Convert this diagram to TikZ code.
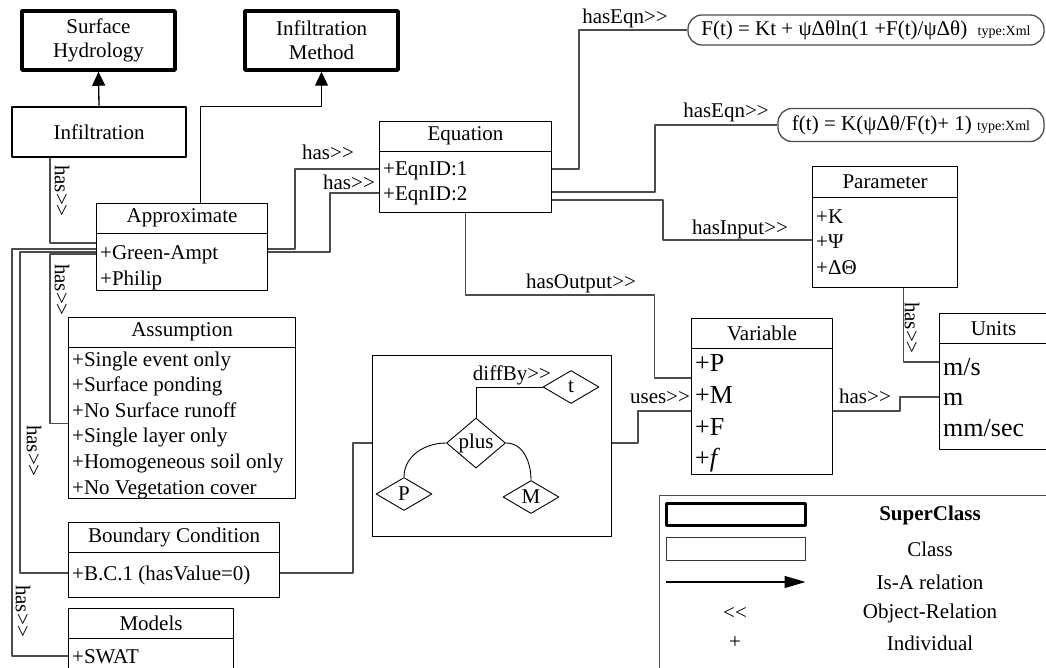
\documentclass[tikz,border=0pt]{standalone}
\usepackage{fontspec}
\setmainfont{Liberation Serif}
\usetikzlibrary{arrows.meta, shapes.geometric, calc, positioning}

\tikzset{
  superbox/.style={draw, line width=3.5pt, align=center, minimum width=153pt, minimum height=59pt, inner sep=0pt},
  clsbox/.style={draw, line width=1.1pt, inner sep=0pt},
  item/.style={anchor=west, inner sep=0pt, text height=15pt, text depth=1pt},
  bigitem/.style={item, font=\fontsize{26}{30}\selectfont, text height=18.5pt, text depth=1pt},
  rel/.style={draw=black!70, line width=1.3pt},
  isa/.style={-{Triangle[length=14pt, width=13pt]}, line width=1.3pt},
  lbl/.style={inner sep=0pt},
  vlbl/.style={inner sep=0pt, rotate=-90},
  eqbox/.style={draw=black!70, line width=1.3pt, rounded corners=14pt, inner sep=0pt},
  opnode/.style={diamond, draw, line width=0.9pt, inner sep=0pt, minimum width=56pt, minimum height=33pt},
  tree/.style={line width=0.9pt}
}

% class box with a header: name, x, y (top left), width, height, header height, title
\newcommand{\umlclass}[7]{%
  \node[clsbox, minimum width=#4pt, minimum height=#5pt, anchor=north west] (#1) at (#2,#3) {};
  \node[anchor=north, minimum height=#6pt, inner sep=0pt] (#1-head) at (#1.north) {#7};
  \draw[line width=1.1pt] (#1-head.south -| #1.west) -- (#1-head.south -| #1.east);
}

\begin{document}
\begin{tikzpicture}[x=1pt, y=1pt, font=\fontsize{21}{24}\selectfont, line join=round]
  \useasboundingbox (0,0) rectangle (1046,-668);

  % --- super classes ---
  \node[superbox] (surfhyd) at (98.5,-40.5) {Surface\\Hydrology};
  \node[superbox] (infmethod) at (321.5,-40.5) {Infiltration\\Method};
  \node[clsbox, minimum width=174pt, minimum height=50pt] (infil) at (99,-132) {Infiltration};

  % --- classes ---
  \umlclass{approx}{96}{-203}{171}{87}{30}{Approximate}
  \node[item] (ga) at (100,-252) {+Green-Ampt};
  \node[item] (philip) at (100,-278) {+Philip};

  \umlclass{eqn}{379}{-121}{172}{91}{30}{Equation}
  \node[item] (eq1) at (383,-169) {+EqnID:1};
  \node[item] (eq2) at (383,-194) {+EqnID:2};

  \umlclass{param}{812}{-166}{145}{121}{31}{Parameter}
  \node[item] (pK) at (816,-217) {+K};
  \node[item] (pPsi) at (816,-242) {+Ψ};
  \node[item] (pTheta) at (816,-267) {+ΔΘ};

  \umlclass{var}{691}{-318}{141}{156}{30}{Variable}
  \node[bigitem] (vP) at (695,-363) {+P};
  \node[bigitem] (vM) at (695,-395) {+M};
  \node[bigitem] (vF) at (695,-427) {+F};
  \node[bigitem] (vf) at (695,-458) {+\textit{f}};

  \umlclass{units}{939}{-313}{108}{136}{30}{Units}
  \node[bigitem] (ums) at (943,-367) {m/s};
  \node[bigitem] (um) at (943,-397) {m};
  \node[bigitem] (umms) at (943,-428) {mm/sec};

  \umlclass{assume}{68}{-317}{227}{181}{30}{Assumption}
  \foreach \txt [count=\i] in {+Single event only, +Surface ponding, +No Surface runoff,
      +Single layer only, +Homogeneous soil only, +No Vegetation cover}{
    \node[item] (a\i) at (72,{-359-25.6*(\i-1)}) {\txt};
  }

  \umlclass{bc}{68}{-522}{211}{75}{30}{Boundary Condition}
  \node[item] (bc1) at (72,-573) {+B.C.1 (hasValue=0)};

  \umlclass{models}{68}{-608}{165}{90}{30}{Models}
  \node[item] (swat) at (72,-656) {+SWAT};

  % --- equations ---
  \node[eqbox, minimum width=356pt, minimum height=30pt] (eqcum) at (866,-30)
    {F(t) = Kt + ψΔθln(1 +F(t)/ψΔθ)\enspace{\fontsize{14}{16}\selectfont type:Xml}};
  \node[eqbox, minimum width=266pt, minimum height=33pt] (eqrate) at (911,-125)
    {f(t) = K(ψΔθ/F(t)+ 1) {\fontsize{14}{16}\selectfont type:Xml}};

  % --- expression tree ---
  \node[clsbox, minimum width=239pt, minimum height=181pt, anchor=north west] (expr) at (372,-355) {};
  \node[opnode] (opt) at (571,-387) {t};
  \node[opnode, minimum width=59pt, minimum height=41pt, inner sep=-1pt] (opplus) at (476,-443) {plus};
  \node[opnode] (opP) at (404,-494) {P};
  \node[opnode] (opM) at (531,-497) {M};
  \draw[tree] (opplus.north) |- (opt.west);
  \draw[tree] (opplus.west) to[out=180, in=90] (opP.north);
  \draw[tree] (opplus.east) to[out=0, in=90] (opM.north);
  \node[lbl] (ldiff) at (512,-375) {diffBy>{}>};

  % --- is-a ---
  \draw[isa] (infil.north) -- (surfhyd.south);
  \draw[isa] ([xshift=18.5pt]approx.north) |- (infil.north -| infmethod.south) -- (infmethod.south);

  % --- relations ---
  \draw[rel] ([xshift=-49pt]infil.south) |- ([yshift=9pt]approx.west |- ga);
  \node[vlbl] (lhasapprox) at (62,-191) {has>{}>};

  \draw[rel] ([yshift=3pt]approx.east |- ga) -- ++(27,0) |- (eqn.west |- eq1);
  \draw[rel] (approx.east |- ga) -- ++(62,0) |- ([yshift=1pt]eqn.west |- eq2);
  \node[lbl] (lhas1) at (328,-152) {has>{}>};
  \node[lbl] (lhas2) at (349,-182) {has>{}>};

  \draw[rel] (eqn.east |- eq1) -- ++(27,0) |- (eqcum.west);
  \node[lbl] (lhaseqn1) at (625,-18) {hasEqn>{}>};
  \draw[rel] ([yshift=2pt]eqn.east |- eq2) -- ++(103,0) |- (eqrate.west);
  \node[lbl] (lhaseqn2) at (726,-112) {hasEqn>{}>};
  \draw[rel] ([yshift=-6pt]eqn.east |- eq2) -- ++(111,0) |- ([yshift=2pt]param.west |- pPsi);
  \node[lbl] (lhasinput) at (740,-229) {hasInput>{}>};

  \draw[rel] (eqn.south) |- ++(189,-82) |- ([yshift=-15pt]var.west |- vP);
  \node[lbl] (lhasoutput) at (581,-283) {hasOutput>{}>};

  \draw[rel] (expr.east |- opplus) -- ++(26,0) |- ([yshift=-16pt]var.west |- vM);
  \node[lbl] (luses) at (660,-398) {uses>{}>};

  \draw[rel] ([yshift=-16pt]var.east |- vM) -- ++(67,0) |- (units.west |- um);
  \node[lbl] (lhasunits) at (865,-396) {has>{}>};

  \draw[rel] ([xshift=18.5pt]param.south) |- ([yshift=5pt]units.west |- ums);
  \node[vlbl] (lhasparam) at (912,-328) {has>{}>};

  \draw[rel] (bc.east |- bc1) -- ++(73,0) |- (expr.west |- opplus);

  \draw[rel] ([yshift=-2pt]approx.west |- ga) -- ++(-46,0) |- ([yshift=-13pt]assume.west |- a3);
  \node[vlbl] (lhasassume) at (62,-290) {has>{}>};
  \draw[rel] (approx.west |- ga) -- ++(-76,0) |- (bc.west |- bc1);
  \node[vlbl] (lhasbc) at (34,-451) {has>{}>};
  \draw[rel] ([yshift=3pt]approx.west |- ga) -- ++(-84,0) |- (models.west |- swat);
  \node[vlbl] (lhasmodels) at (23,-611) {has>{}>};

  % --- legend ---
  \node[draw=black!70, line width=1.1pt, minimum width=420pt, minimum height=200pt, anchor=north west] (legend) at (659,-495) {};
  \node[draw, line width=3pt, minimum width=139pt, minimum height=22pt] (lsuper) at (735.5,-514) {};
  \node[draw=black!80, line width=1pt, minimum width=139pt, minimum height=23pt] (lclass) at (735.5,-548.5) {};
  \node (tsuper) at (930,-515) {\textbf{SuperClass}};
  \node (tclass) at (930,-549) {Class};
  \node (tisa) at (930,-582) {Is-A relation};
  \node (tobj) at (930,-613) {Object-Relation};
  \node (tind) at (930,-643) {Individual};
  \draw[-{Triangle[length=21pt, width=12pt]}, line width=1.3pt] (lclass.west |- tisa) -- (lclass.east |- tisa);
  \node (lobj) at (735,-613) {<{}<};
  \node (lind) at (735,-643) {+};
\end{tikzpicture}
\end{document}
